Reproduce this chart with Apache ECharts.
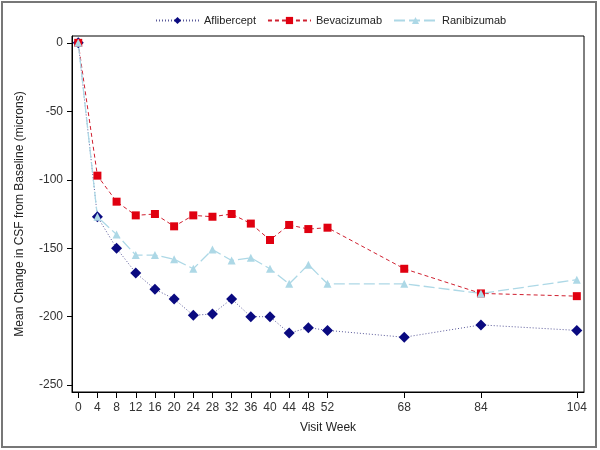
<!DOCTYPE html>
<html><head><meta charset="utf-8">
<script src="https://cdn.jsdelivr.net/npm/echarts@6/dist/echarts.min.js"></script>
<style>html,body{margin:0;padding:0;background:#fff}#c{width:600px;height:450px}</style>
</head><body><div id="c"></div>
<script>
const weeks = [0, 4, 8, 12, 16, 20, 24, 28, 32, 36, 40, 44, 48, 52, 68, 84, 104];
const aflibercept = [0, -127, -150, -168, -180, -187, -199, -198, -187, -200, -200, -212, -208, -210, -215, -206, -210];
const bevacizumab = [0, -97, -116, -126, -125, -134, -126, -127, -125, -132, -144, -133, -136, -135, -165, -183, -185];
const ranibizumab = [0, -127, -140, -155, -155, -158, -165, -151, -159, -157, -165, -176, -162, -176, -176, -183, -173];
const yTicks = [-250, -200, -150, -100, -50, 0];
const seriesNames = ['Aflibercept', 'Bevacizumab', 'Ranibizumab'];

const pair = arr => weeks.map((w, i) => [w, arr[i]]);
const font = 'Liberation Sans, Arial, sans-serif';
const chart = echarts.init(document.getElementById('c'));
chart.setOption({
  animation: false,
  backgroundColor: '#fff',
  textStyle: { fontFamily: font },
  graphic: [{ type: 'rect', shape: { x: 2, y: 2, width: 594, height: 445 }, style: { fill: 'none', stroke: '#777', lineWidth: 2 }, z: 100 }],
  legend: {
    left: 150, top: 10, itemWidth: 43, itemHeight: 9, itemGap: 11,
    textStyle: { fontSize: 11, color: '#222', fontFamily: font },
    data: seriesNames
  },
  grid: { left: 72, right: 16, top: 36, bottom: 58, show: true, borderColor: '#000', borderWidth: 1, backgroundColor: 'transparent' },
  xAxis: {
    type: 'value', min: -1.3, max: 105.5,
    name: 'Visit Week', nameLocation: 'middle', nameGap: 30,
    nameTextStyle: { fontSize: 12, color: '#222', fontFamily: font },
    axisLine: { onZero: false, lineStyle: { color: '#000' } },
    axisTick: { show: true, length: 6, customValues: weeks, lineStyle: { color: '#000' } },
    axisLabel: { customValues: weeks, fontSize: 12, color: '#333', margin: 10, showMinLabel: true, showMaxLabel: true },
    splitLine: { show: false }
  },
  yAxis: {
    type: 'value', min: -255, max: 5,
    name: 'Mean Change in CSF from Baseline (microns)', nameLocation: 'middle', nameGap: 46,
    nameTextStyle: { fontSize: 12, color: '#222', fontFamily: font },
    axisLine: { show: true, onZero: false, lineStyle: { color: '#000' } },
    axisTick: { show: true, length: 5, customValues: yTicks, lineStyle: { color: '#000' } },
    axisLabel: { customValues: yTicks, fontSize: 12, color: '#333', margin: 9 },
    splitLine: { show: false }
  },
  series: [
    { name: 'Aflibercept', type: 'line', data: pair(aflibercept), symbol: 'diamond', symbolSize: 11,
      itemStyle: { color: '#0a0a80' }, lineStyle: { color: '#5a5a9a', width: 1, type: [1, 2] } },
    { name: 'Bevacizumab', type: 'line', data: pair(bevacizumab), symbol: 'rect', symbolSize: 8,
      itemStyle: { color: '#e00010' }, lineStyle: { color: '#d02030', width: 1, type: [4, 3] } },
    { name: 'Ranibizumab', type: 'line', data: pair(ranibizumab), symbol: 'triangle', symbolSize: 8,
      itemStyle: { color: '#add8e6' }, lineStyle: { color: '#add8e6', width: 1.3, type: [11, 4] } }
  ]
});
</script></body></html>
